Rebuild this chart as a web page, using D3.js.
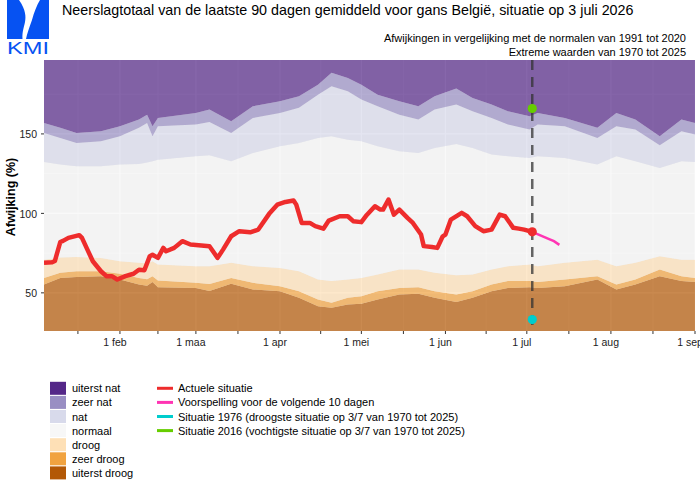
<!DOCTYPE html>
<html>
<head>
<meta charset="utf-8">
<script src="https://cdn.jsdelivr.net/npm/d3@7"></script>
<style>
body { margin: 0; background: #fff; }
text { font-family: "Liberation Sans", Arial, sans-serif; }
</style>
</head>
<body>
<div id="chart"></div>
<script>
// klimatologische grenzen (percentielen) per datum
var bandDates = ["2026-01-04","2026-01-10","2026-01-16","2026-01-25","2026-02-01","2026-02-08","2026-02-11","2026-02-13","2026-02-15","2026-03-01","2026-03-06","2026-03-14","2026-03-22","2026-04-01","2026-04-08","2026-04-15","2026-04-20","2026-04-26","2026-05-01","2026-05-07","2026-05-15","2026-05-22","2026-05-28","2026-06-05","2026-06-11","2026-06-18","2026-06-24","2026-07-02","2026-07-05","2026-07-15","2026-07-27","2026-08-03","2026-08-10","2026-08-19","2026-08-27","2026-09-01"];
var topZeerNat     = [156.9,153.8,150.6,151.7,154.8,159,162.1,154.8,160,163.2,165.3,158,167.4,170.6,173.7,181,188.4,185.2,181,174.7,170.6,167.4,173.7,178.5,172.6,168.5,164.3,161.1,163.2,160,153.8,163.2,159,148.6,159,156.9];
var topNat         = [150.6,147.5,144.3,145.4,148.6,153.8,156.9,148.6,154.8,155.9,157.5,150.6,160,163.2,166.4,174.7,180,176.9,171.6,167.4,162.1,159,165.3,168.5,164.3,160,155.9,152.7,155.9,154.8,147.5,154.8,152.7,142.9,151.7,149.6];
var topNormaal     = [132.4,130.7,129.7,129.7,130.7,131.1,132,132.8,133.8,136,136.5,132.8,138,142.3,144.3,147.5,148.6,146.4,145.4,142.3,139.1,138,141.2,143.7,141.2,137,136,134.9,136,134.9,130.7,136,132.8,128.6,132.8,132.4];
var topDroog       = [70.9,72.3,72.6,71.9,69.9,68.9,68.5,69.9,67.8,66.8,66.8,68.9,66.8,65.7,63.6,58.4,57.4,58.4,59.4,61.5,64.7,64.7,62.6,61.1,61.5,64.7,66.8,67.8,66.8,68.9,70.9,66.8,68.9,73.1,70.9,70.9];
var topZeerDroog   = [59.4,62.6,63.6,63.6,62,59.4,58.5,60.5,57.7,56.3,55.5,59.4,56.3,54.2,51,45.8,43.7,46.9,47.9,51,53.1,53.6,51,48.9,51,55.2,57.4,57.4,56.9,58.4,60.5,55.2,58.4,64.7,60.5,59.4];
var topUiterstDroog= [55.2,59.4,59.9,60.5,58.4,55.2,54.5,56.9,53.6,53.1,51.2,55.7,52.1,51,46.9,41.6,40.6,42.6,43.1,45.8,48.9,49.4,46.9,44.3,46.9,51,53.1,53.6,53.1,54.2,58.4,52.1,55.2,60.5,57.4,56.9];

// actuele situatie
var actualDates = ["2026-01-04","2026-01-07","2026-01-08","2026-01-10","2026-01-11","2026-01-13","2026-01-17","2026-01-18","2026-01-20","2026-01-22","2026-01-25","2026-01-27","2026-01-29","2026-01-31","2026-02-03","2026-02-06","2026-02-08","2026-02-10","2026-02-12","2026-02-13","2026-02-15","2026-02-17","2026-02-18","2026-02-21","2026-02-24","2026-02-27","2026-03-02","2026-03-06","2026-03-09","2026-03-11","2026-03-14","2026-03-17","2026-03-21","2026-03-24","2026-03-28","2026-03-31","2026-04-03","2026-04-06","2026-04-07","2026-04-09","2026-04-12","2026-04-14","2026-04-17","2026-04-19","2026-04-23","2026-04-26","2026-04-28","2026-05-01","2026-05-03","2026-05-06","2026-05-08","2026-05-09","2026-05-11","2026-05-13","2026-05-15","2026-05-18","2026-05-20","2026-05-23","2026-05-24","2026-05-27","2026-05-29","2026-05-31","2026-06-01","2026-06-03","2026-06-07","2026-06-09","2026-06-12","2026-06-15","2026-06-18","2026-06-20","2026-06-21","2026-06-23","2026-06-26","2026-06-28","2026-06-30","2026-07-03"];
var actualValues = [68.9,69.2,70,82,82.7,84.6,86.3,84.6,77.2,69.9,63.6,60.5,60.5,58.4,60.5,62,64.5,64.2,73.1,74,72,78.3,76.2,78.3,82.5,80.4,80,79.3,72,77.2,85.6,88.8,88.1,89.8,99.7,105.5,107.2,108.1,105.5,94,94,92,90.4,95.5,98.2,98.2,95.1,94.5,99,104.5,102.4,102.4,108.7,99.2,102.4,97.2,94,86.7,79.4,78.9,78.3,85.6,86.7,96.1,100.3,98.2,92,88.8,89.8,96.1,99.2,98.2,90.9,90.4,89.8,88.4];

// voorspelling 10 dagen
var forecastDates = ["2026-07-03","2026-07-06","2026-07-09","2026-07-11","2026-07-13"];
var forecastValues = [88.4,86.2,84,82.5,80.2];

// extremen op 3/7
var extremeDate = "2026-07-03";
var driest1976 = 33.2;
var wettest2016 = 166;

var bandLabels = ["uiterst nat", "zeer nat", "nat", "normaal", "droog", "zeer droog", "uiterst droog"];
var bandColors = ["#542788", "#998ec3", "#d8daeb", "#f7f7f7", "#fee0b6", "#f1a340", "#b35806"];
var lineLabels = ["Actuele situatie", "Voorspelling voor de volgende 10 dagen", "Situatie 1976 (droogste situatie op 3/7 van 1970 tot 2025)", "Situatie 2016 (vochtigste situatie op 3/7 van 1970 tot 2025)"];
var lineColors = ["#ee2c2c", "#ff34b3", "#00cdcd", "#66cd00"];
var monthLabels = ["1 feb", "1 maa", "1 apr", "1 mei", "1 jun", "1 jul", "1 aug", "1 sep"];
var yTicks = [50, 100, 150];

var parse = d3.timeParse("%Y-%m-%d");
const panelLeft = 44, panelRight = 695, panelTop = 60, panelBottom = 331;
const yMin = 26, yMax = 196.5;

var svg = d3.select("#chart").append("svg")
    .attr("width", 700)
    .attr("height", 490);

var x = d3.scaleTime()
    .domain([parse("2026-01-04"), parse("2026-09-01")])
    .range([panelLeft, panelRight]);
var y = d3.scaleLinear()
    .domain([yMin, yMax])
    .range([panelBottom, panelTop]);

svg.append("clipPath").attr("id", "panel")
    .append("rect")
    .attr("x", panelLeft).attr("y", panelTop)
    .attr("width", panelRight - panelLeft).attr("height", panelBottom - panelTop);

svg.append("rect")
    .attr("x", panelLeft).attr("y", panelTop)
    .attr("width", panelRight - panelLeft).attr("height", panelBottom - panelTop)
    .attr("fill", "#ebebeb");

// grid
var monthStarts = d3.timeMonth.range(parse("2026-01-01"), parse("2026-09-02"));
var midMonths = [];
for (let i = 0; i < monthStarts.length - 1; i++) {
    midMonths.push(new Date((monthStarts[i].getTime() + monthStarts[i + 1].getTime()) / 2));
}
var majorX = monthStarts.slice(1);
var grid = svg.append("g").attr("clip-path", "url(#panel)");
grid.selectAll(".vminor").data(midMonths).enter().append("line")
    .attr("x1", d => x(d)).attr("x2", d => x(d))
    .attr("y1", panelTop).attr("y2", panelBottom)
    .style("stroke", "#fff").style("stroke-width", 0.6);
grid.selectAll(".vmajor").data(majorX).enter().append("line")
    .attr("x1", d => x(d)).attr("x2", d => x(d))
    .attr("y1", panelTop).attr("y2", panelBottom)
    .style("stroke", "#fff").style("stroke-width", 1.1);
grid.selectAll(".hminor").data([75, 125, 175]).enter().append("line")
    .attr("x1", panelLeft).attr("x2", panelRight)
    .attr("y1", d => y(d)).attr("y2", d => y(d))
    .style("stroke", "#fff").style("stroke-width", 0.6);
grid.selectAll(".hmajor").data(yTicks).enter().append("line")
    .attr("x1", panelLeft).attr("x2", panelRight)
    .attr("y1", d => y(d)).attr("y2", d => y(d))
    .style("stroke", "#fff").style("stroke-width", 1.1);

// bands
var bandData = bandDates.map((d, i) => ({
    date: parse(d),
    b: [yMin, topUiterstDroog[i], topZeerDroog[i], topDroog[i], topNormaal[i], topNat[i], topZeerNat[i], yMax]
}));
var bands = svg.append("g").attr("clip-path", "url(#panel)");
for (let k = 0; k < 7; k++) {
    let area = d3.area()
        .x(d => x(d.date))
        .y0(d => y(d.b[k]))
        .y1(d => y(d.b[k + 1]));
    bands.append("path")
        .datum(bandData)
        .attr("d", area)
        .attr("fill", bandColors[6 - k])
        .attr("fill-opacity", 0.7);
}

// axes ticks and labels
var allTicks = midMonths.concat(majorX);
svg.selectAll(".xtick").data(allTicks).enter().append("line")
    .attr("x1", d => x(d)).attr("x2", d => x(d))
    .attr("y1", panelBottom).attr("y2", panelBottom + 3)
    .style("stroke", "#333").style("stroke-width", 1);
svg.selectAll(".xlabel").data(majorX).enter().append("text")
    .attr("x", d => x(d) - 5)
    .attr("y", 346)
    .attr("text-anchor", "middle")
    .style("font-size", "10.5px")
    .style("fill", "#222")
    .text((d, i) => monthLabels[i]);

svg.selectAll(".ytick").data(yTicks).enter().append("line")
    .attr("x1", panelLeft - 3).attr("x2", panelLeft)
    .attr("y1", d => y(d)).attr("y2", d => y(d))
    .style("stroke", "#333").style("stroke-width", 1);
svg.selectAll(".ylabel").data(yTicks).enter().append("text")
    .attr("x", 37)
    .attr("y", d => y(d) + 4.5)
    .attr("text-anchor", "end")
    .style("font-size", "10.5px")
    .style("fill", "#222")
    .text(d => d);

svg.append("text")
    .attr("transform", "translate(15,197) rotate(-90)")
    .attr("text-anchor", "middle")
    .style("font-size", "12.5px")
    .style("font-weight", "bold")
    .text("Afwijking (%)");

// lines
var plot = svg.append("g").attr("clip-path", "url(#panel)");
var line = d3.line().x(d => x(d.date)).y(d => y(d.value));

plot.append("line")
    .attr("x1", x(parse(extremeDate))).attr("x2", x(parse(extremeDate)))
    .attr("y1", panelTop).attr("y2", panelBottom)
    .style("stroke", "#333")
    .style("stroke-opacity", 0.75)
    .style("stroke-width", 2.5)
    .style("stroke-dasharray", "10,7");

plot.append("path")
    .datum(forecastDates.map((d, i) => ({date: parse(d), value: forecastValues[i]})))
    .attr("d", line)
    .attr("fill", "none")
    .style("stroke", lineColors[1])
    .style("stroke-width", 2.5);

plot.append("path")
    .datum(actualDates.map((d, i) => ({date: parse(d), value: actualValues[i]})))
    .attr("d", line)
    .attr("fill", "none")
    .style("stroke", lineColors[0])
    .style("stroke-width", 4.5)
    .style("stroke-linejoin", "round");

plot.append("circle")
    .attr("cx", x(parse(actualDates[actualDates.length - 1])))
    .attr("cy", y(actualValues[actualValues.length - 1]))
    .attr("r", 4.6).attr("fill", lineColors[0]);
plot.append("circle")
    .attr("cx", x(parse(extremeDate))).attr("cy", y(driest1976))
    .attr("r", 4.6).attr("fill", lineColors[2]);
plot.append("circle")
    .attr("cx", x(parse(extremeDate))).attr("cy", y(wettest2016))
    .attr("r", 4.6).attr("fill", lineColors[3]);

// titles
svg.append("text")
    .attr("x", 62).attr("y", 14.5)
    .style("font-size", "14.3px")
    .text("Neerslagtotaal van de laatste 90 dagen gemiddeld voor gans België, situatie op 3 juli 2026");
svg.append("text")
    .attr("x", 686).attr("y", 41.5)
    .attr("text-anchor", "end")
    .style("font-size", "11px")
    .text("Afwijkingen in vergelijking met de normalen van 1991 tot 2020");
svg.append("text")
    .attr("x", 686).attr("y", 55.5)
    .attr("text-anchor", "end")
    .style("font-size", "11px")
    .text("Extreme waarden van 1970 tot 2025");

// logo
var logo = svg.append("g");
logo.append("rect").attr("x", 7).attr("y", 0).attr("width", 42).attr("height", 39).attr("fill", "#0652f2");
logo.append("path")
    .attr("d", "M19,0 L40,0 C37,5 34,12 32,20 C29,28 27,34 26,39 L22.5,39 C22,32 24,27 25,22 C26,17 26,10 19,0 Z")
    .attr("fill", "#fff");
logo.append("text")
    .attr("x", 7).attr("y", 53.5)
    .attr("textLength", 42).attr("lengthAdjust", "spacingAndGlyphs")
    .style("font-size", "16px")
    .style("fill", "#0652f2")
    .text("KMI");

// legend
var legend = svg.append("g");
bandLabels.forEach(function(label, i) {
    let cy = 388.3 + i * 14.1;
    legend.append("rect")
        .attr("x", 50).attr("y", cy - 6.5)
        .attr("width", 16).attr("height", 13)
        .attr("fill", bandColors[i]);
    legend.append("text")
        .attr("x", 72).attr("y", cy + 4)
        .style("font-size", "11px")
        .text(label);
});
lineLabels.forEach(function(label, i) {
    let cy = 388.3 + i * 14.1;
    legend.append("line")
        .attr("x1", 157).attr("x2", 173)
        .attr("y1", cy).attr("y2", cy)
        .style("stroke", lineColors[i])
        .style("stroke-width", 3);
    legend.append("text")
        .attr("x", 178).attr("y", cy + 4)
        .style("font-size", "11px")
        .text(label);
});
</script>
</body>
</html>
